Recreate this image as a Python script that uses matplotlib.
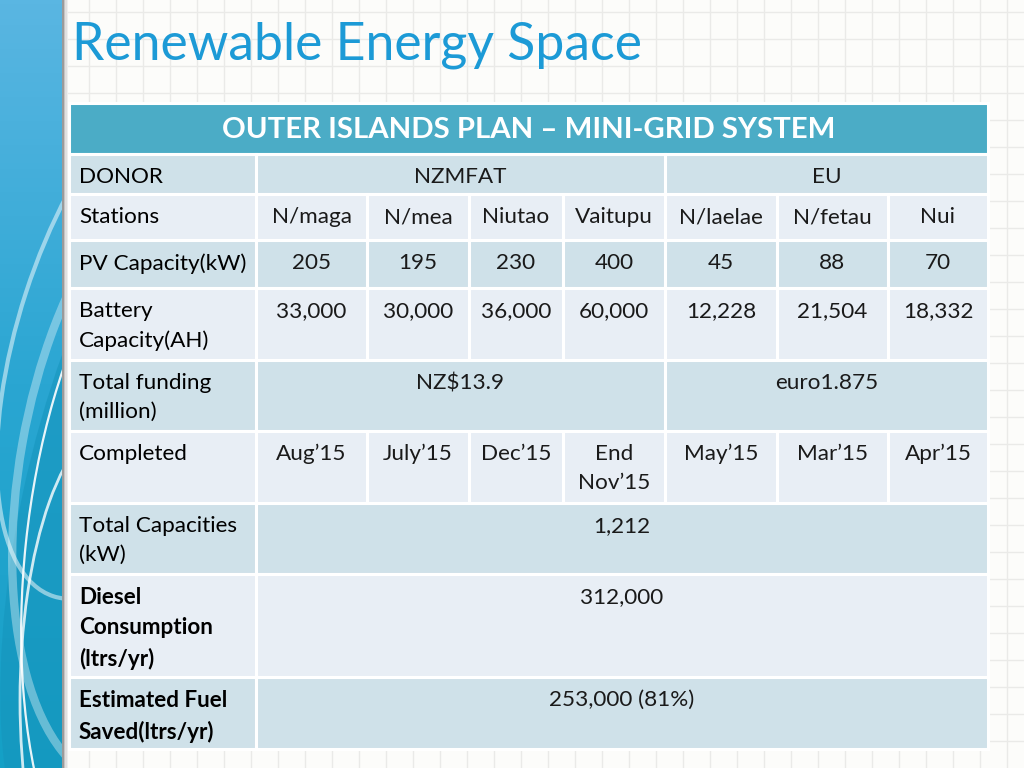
import numpy as np
import matplotlib
matplotlib.use("Agg")
import matplotlib.pyplot as plt
from matplotlib.patches import Rectangle, Arc, Ellipse

plt.rcParams["font.family"] = ["Lato", "DejaVu Sans"]

title = "Renewable Energy Space"
header = "OUTER ISLANDS PLAN \u2013 MINI-GRID SYSTEM"

row_labels = ["DONOR", "Stations", "PV Capacity(kW)", "Battery\nCapacity(AH)",
              "Total funding\n(million)", "Completed", "Total Capacities\n(kW)",
              "Diesel\nConsumption\n(ltrs/yr)", "Estimated Fuel\nSaved(ltrs/yr)"]
bold_labels = ["Diesel\nConsumption\n(ltrs/yr)", "Estimated Fuel\nSaved(ltrs/yr)"]

donors = ["NZMFAT", "EU"]
donor_span = [4, 3]
stations = ["N/maga", "N/mea", "Niutao", "Vaitupu", "N/laelae", "N/fetau", "Nui"]
pv_capacity = ["205", "195", "230", "400", "45", "88", "70"]
battery = ["33,000", "30,000", "36,000", "60,000", "12,228", "21,504", "18,332"]
funding = ["NZ$13.9", "euro1.875"]
completed = ["Aug\u201915", "July\u201915", "Dec\u201915", "End\nNov\u201915",
             "May\u201915", "Mar\u201915", "Apr\u201915"]
total_capacity = "1,212"
diesel = "312,000"
fuel_saved = "253,000 (81%)"

# layout (pixels)
col_w = [187, 111, 102, 94, 102, 112, 111, 100]
row_h = [51, 40, 46, 48, 72, 71, 72, 71, 103, 72]
x0, y0 = 69, 103
dark = "#CFE1E9"
light = "#E8EEF5"
teal = "#4BACC6"
fs = 16.2
pad = 13
lsp = 1.55

fig = plt.figure(figsize=(10.24, 7.68), dpi=100)
ax = fig.add_axes([0, 0, 1, 1])
ax.set_xlim(0, 1024)
ax.set_ylim(768, 0)
ax.axis("off")

# background grid paper
ax.add_patch(Rectangle((0, 0), 1024, 768, facecolor="#FCFCFA", edgecolor="none", zorder=0))
for g in np.arange(8, 1024, 27):
    ax.axvline(g, color="#EAEAE8", lw=1, zorder=0.5)
for g in np.arange(12, 768, 27):
    ax.axhline(g, color="#EAEAE8", lw=1, zorder=0.5)

# left decorative strip in its own axes (clips the swirls)
sx = fig.add_axes([0, 0, 62 / 1024, 1])
sx.set_xlim(0, 62)
sx.set_ylim(768, 0)
sx.axis("off")
grad = np.linspace(0, 1, 256)[:, None]
cmap = matplotlib.colors.LinearSegmentedColormap.from_list("strip", ["#5AB6E2", "#2AA6D2", "#14A0C6"])
sx.imshow(grad, extent=(0, 62, 768, 0), cmap=cmap, aspect="auto", zorder=1)
sx.add_patch(Ellipse((150, 520), 260, 760, angle=12, facecolor="#1594BC", edgecolor="none",
                     alpha=0.55, zorder=1.2))
for (cx, cy, w, h, a, lw, al) in [(170, 470, 300, 640, 10, 6, 0.35), (190, 560, 330, 760, 6, 1.6, 0.9),
                                  (140, 330, 240, 560, 18, 3, 0.5), (120, 700, 200, 560, 0, 2, 0.8)]:
    sx.add_patch(Arc((cx, cy), w, h, angle=a, color="white", lw=lw, alpha=al, zorder=1.3))
for i, c in enumerate(["#9A9A9A", "#C4C4C4", "#E0E0E0", "#EEEEEE"]):
    ax.add_patch(Rectangle((62 + i * 1.5, 0), 1.5, 768, facecolor=c, edgecolor="none", zorder=1.4))

# title
ax.text(72, 45, title, fontsize=37.3, color="#1C9AD6", va="center", ha="left", zorder=5)

xs = np.concatenate([[x0], x0 + np.cumsum(col_w)])
ys = np.concatenate([[y0], y0 + np.cumsum(row_h)])


def shade(r):
    return dark if r % 2 == 1 else light


def cell(c0, c1, r):
    ax.add_patch(Rectangle((xs[c0], ys[r]), xs[c1] - xs[c0], row_h[r], facecolor=shade(r),
                           edgecolor="white", lw=2.2, zorder=2))


def ctext(c0, c1, r, s):
    ax.text((xs[c0] + xs[c1]) / 2, ys[r] + pad, s, ha="center", va="top", fontsize=fs,
            color="#1A1A1A", linespacing=lsp, zorder=5)


# header
ax.add_patch(Rectangle((xs[0], ys[0]), xs[8] - xs[0], row_h[0], facecolor=teal,
                       edgecolor="white", lw=2.2, zorder=2))
ax.text((xs[0] + xs[8]) / 2, ys[0] + row_h[0] / 2 + 1, header, ha="center", va="center",
        fontsize=21.2, fontweight="bold", color="white", zorder=5)

for r, lab in enumerate(row_labels, start=1):
    cell(0, 1, r)
    ax.text(xs[0] + 10, ys[r] + pad, lab, ha="left", va="top", fontsize=fs, color="#000000",
            linespacing=lsp, fontweight="bold" if lab in bold_labels else "normal", zorder=5)

# donors
c = 1
for d, span in zip(donors, donor_span):
    cell(c, c + span, 1)
    ctext(c, c + span, 1, d)
    c += span

# per-station rows
for r, vals in [(2, stations), (3, pv_capacity), (4, battery), (6, completed)]:
    for i, v in enumerate(vals):
        cell(i + 1, i + 2, r)
        ctext(i + 1, i + 2, r, v)

# funding
c = 1
for f, span in zip(funding, donor_span):
    cell(c, c + span, 5)
    ctext(c, c + span, 5, f)
    c += span

# totals
for r, v in [(7, total_capacity), (8, diesel), (9, fuel_saved)]:
    cell(1, 8, r)
    ctext(1, 8, r, v)

fig.savefig("out.png", dpi=100)
